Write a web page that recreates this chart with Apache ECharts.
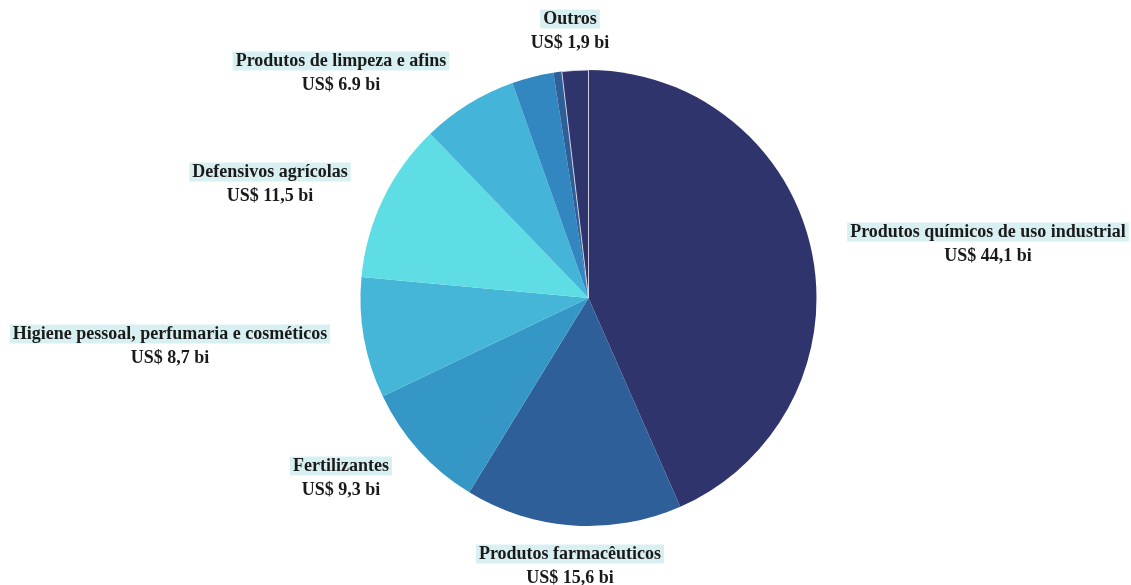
<!DOCTYPE html>
<html>
<head>
<meta charset="utf-8">
<script src="https://cdn.jsdelivr.net/npm/echarts@6/dist/echarts.min.js"></script>
<style>
  html, body { margin: 0; padding: 0; background: #fff; }
  #main { width: 1131px; height: 585px; }
</style>
</head>
<body>
<div id="main"></div>
<script>
var chartDom = document.getElementById("main");
var myChart = echarts.init(chartDom);
var option;

// setores (sentido horário a partir do topo)
const categories = [
  "Produtos químicos de uso industrial",
  "Produtos farmacêuticos",
  "Fertilizantes",
  "Higiene pessoal, perfumaria e cosméticos",
  "Defensivos agrícolas",
  "Produtos de limpeza e afins",
  "",
  "",
  "Outros"
];
const values = [44.1, 15.6, 9.3, 8.7, 11.5, 6.9, 3.0, 0.6, 1.9];
const valueLabels = [
  "US$ 44,1 bi",
  "US$ 15,6 bi",
  "US$ 9,3 bi",
  "US$ 8,7 bi",
  "US$ 11,5 bi",
  "US$ 6.9 bi",
  "",
  "",
  "US$ 1,9 bi"
];
const colors = [
  "#30346c", "#2e5f98", "#3597c5", "#45b5d8", "#5edde5",
  "#44b4d8", "#3287c0", "#2e5f98", "#30346c"
];

// onde fica o centro de cada rótulo
const labelPos = [
  [988, 244], [570, 566], [341, 478], [170, 346], [270, 184],
  [341, 73], [0, 0], [0, 0], [570, 31]
];

const data = values.map(function (v, i) {
  return {
    name: categories[i],
    value: v,
    itemStyle: i === 8
      ? { color: colors[i], borderColor: "#e8e8f4", borderWidth: 0.8 }
      : { color: colors[i] },
    label: { show: categories[i] !== "" }
  };
});

option = {
  backgroundColor: "#fff",
  animation: false,
  series: [
    {
      type: "pie",
      center: [588.5, 298],
      radius: 228,
      startAngle: 90,
      clockwise: true,
      data: data,
      itemStyle: {
        borderWidth: 0
      },
      labelLine: { show: false },
      label: {
        position: "outside",
        overflow: "none",
        formatter: function (p) {
          return "{a|" + p.name + "}\n{b|" + valueLabels[p.dataIndex] + "}";
        },
        rich: {
          a: {
            fontFamily: "Liberation Serif",
            fontWeight: "bold",
            fontSize: 18,
            color: "#1a1a1a",
            backgroundColor: "#d8f0f1",
            padding: [1, 3, 0, 3],
            lineHeight: 24,
            align: "center"
          },
          b: {
            fontFamily: "Liberation Serif",
            fontWeight: "bold",
            fontSize: 18,
            color: "#1a1a1a",
            lineHeight: 24,
            align: "center"
          }
        }
      },
      labelLayout: function (params) {
        const p = labelPos[params.dataIndex];
        return {
          x: p[0],
          y: p[1],
          align: "center",
          verticalAlign: "middle"
        };
      }
    }
  ]
};

option && myChart.setOption(option);
</script>
</body>
</html>
